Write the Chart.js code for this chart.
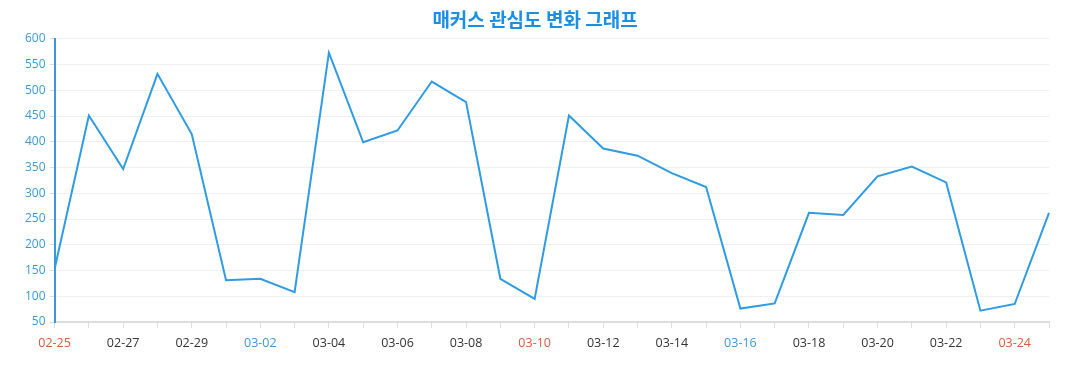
<!DOCTYPE html>
<html lang="ko">
<head>
<meta charset="utf-8">
<title>매커스 관심도 변화 그래프</title>
<script src="https://cdn.jsdelivr.net/npm/chart.js@4.4.1/dist/chart.umd.min.js"></script>
<style>
    html, body { margin: 0; padding: 0; background: #fff; }
    #myChart { display: block; }
</style>
</head>
<body>
<canvas id="myChart" width="1077" height="390"></canvas>
<script>
// 날짜 (02-25 ~ 03-25)
const fechas = [
    "02-25", "02-26", "02-27", "02-28", "02-29",
    "03-01", "03-02", "03-03", "03-04", "03-05", "03-06", "03-07", "03-08", "03-09", "03-10",
    "03-11", "03-12", "03-13", "03-14", "03-15", "03-16", "03-17", "03-18", "03-19", "03-20",
    "03-21", "03-22", "03-23", "03-24", "03-25"
];

// 관심도 값
const valores = [
    153, 451, 347, 532, 415,
    131, 134, 108, 573, 399, 422, 517, 477, 134, 95,
    451, 387, 373, 339, 312, 76, 86, 262, 258, 333,
    352, 321, 72, 85, 262
];

// 요일 (0 = 일요일, 6 = 토요일), 2024-02-25 는 일요일
const diaInicio = 0;

const escalaY = { min: 50, max: 600, paso: 50 };

const COLOR_AZUL = "#2f9be3";
const COLOR_ROJO = "#e0583c";

function colorEtiqueta(index) {
    const dia = (diaInicio + index) % 7;
    if (dia === 0) return COLOR_ROJO;
    if (dia === 6) return "#3a9ad9";
    return "#333333";
}

document.addEventListener("DOMContentLoaded", function () {
    const ctx = document.getElementById("myChart").getContext("2d");
    new Chart(ctx, {
        type: "line",
        data: {
            labels: fechas,
            datasets: [
                {
                    label: "관심도",
                    data: valores,
                    borderColor: COLOR_AZUL,
                    backgroundColor: COLOR_AZUL,
                    borderWidth: 2,
                    pointRadius: 0,
                    tension: 0,
                    fill: false,
                },
            ],
        },
        options: {
            responsive: false,
            animation: false,
            layout: {
                padding: { left: 21, right: 28, top: 0, bottom: 31 },
            },
            plugins: {
                legend: { display: false },
                tooltip: { enabled: false },
                title: {
                    display: true,
                    text: "매커스 관심도 변화 그래프",
                    color: "#1a8fe3",
                    font: { family: "'Noto Sans CJK KR', 'Noto Sans', sans-serif", size: 19, weight: "bold" },
                    padding: { top: 8, bottom: 8 },
                },
            },
            scales: {
                x: {
                    offset: false,
                    grid: {
                        display: true,
                        drawOnChartArea: false,
                        drawTicks: true,
                        tickLength: 6,
                        color: "#dddddd",
                    },
                    border: { color: "#dddddd", width: 2 },
                    ticks: {
                        autoSkip: false,
                        maxRotation: 0,
                        padding: 8,
                        font: { family: "'Open Sans', sans-serif", size: 12.5 },
                        color: function (c) { return colorEtiqueta(c.index); },
                        callback: function (value, index) {
                            return index % 2 === 0 ? this.getLabelForValue(value) : "";
                        },
                    },
                },
                y: {
                    min: escalaY.min,
                    max: escalaY.max,
                    grid: {
                        color: "#f0f0f0",
                        tickColor: "#dddddd",
                        tickLength: 5,
                    },
                    border: { color: "#3a9ad9", width: 2 },
                    ticks: {
                        stepSize: escalaY.paso,
                        padding: 4,
                        color: "#3a9ad9",
                        font: { family: "'Open Sans', sans-serif", size: 12 },
                    },
                },
            },
        },
    });
});
</script>
</body>
</html>
